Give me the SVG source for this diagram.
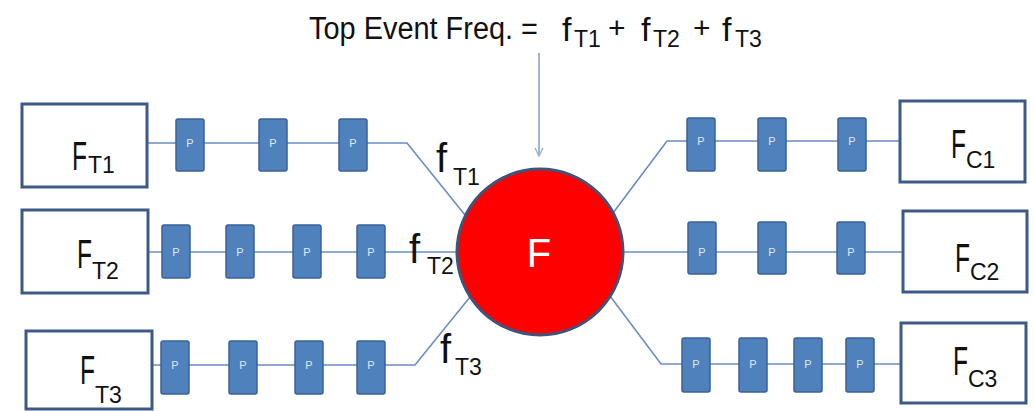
<svg xmlns="http://www.w3.org/2000/svg" width="1035" height="411" viewBox="0 0 1035 411">
<style>
  .box{fill:#fff;stroke:#3d5a86;stroke-width:3}
  .p{fill:#4f81bd;stroke:#3a6296;stroke-width:1.5}
  .pt{font-family:"Liberation Sans",Arial,sans-serif;font-size:11px;fill:#dfe8f5;text-anchor:middle}
  .con{fill:none;stroke:#6b8cc4;stroke-width:1.6}
  .big{font-family:"Liberation Sans",Arial,sans-serif;font-size:40px;fill:#111}
  .sub{font-family:"Liberation Sans",Arial,sans-serif;font-size:23px;fill:#111}
  .title{font-family:"Liberation Sans",Arial,sans-serif;fill:#111}
</style>
<defs>
  <marker id="arr" viewBox="0 0 10 10" refX="9" refY="5" markerWidth="10" markerHeight="10" markerUnits="userSpaceOnUse" orient="auto">
    <path d="M1,1 L9,5 L1,9" fill="none" stroke="#9fb4d6" stroke-width="1.5"/>
  </marker>
</defs>

<g id="title">
  <text class="title" x="309" y="39" font-size="31" textLength="229" lengthAdjust="spacingAndGlyphs">Top Event Freq. =</text>
  <text class="title" font-size="34"><tspan x="562" y="41">f</tspan><tspan x="574" y="47" font-size="23">T1</tspan><tspan x="608" y="38" font-size="30">+</tspan><tspan x="641" y="41">f</tspan><tspan x="653" y="47" font-size="23">T2</tspan><tspan x="693" y="38" font-size="30">+</tspan><tspan x="722" y="41">f</tspan><tspan x="735" y="47" font-size="23">T3</tspan></text>
</g>

<g id="connectors">
  <polyline class="con" points="147,143 407,143 465,215"/>
  <line class="con" x1="148" y1="252" x2="457" y2="252"/>
  <polyline class="con" points="152,365 415,365 470,297"/>
  <polyline class="con" points="613,213 667,141 900,141"/>
  <line class="con" x1="623" y1="252" x2="903" y2="252"/>
  <polyline class="con" points="610,296 661,364 901,364"/>
  <line x1="539" y1="53" x2="539" y2="156" stroke="#9fb4d6" stroke-width="2" marker-end="url(#arr)"/>
</g>

<g id="F">
  <circle cx="540" cy="252" r="83" fill="#ff0000" stroke="#3e5478" stroke-width="3"/>
  <text x="539" y="267" font-family="Liberation Sans,Arial,sans-serif" font-size="40" fill="#fff" text-anchor="middle">F</text>
</g>

<g id="FT1">
  <rect class="box" x="22" y="104" width="125" height="83"/>
  <text class="big" x="72" y="170" textLength="15" lengthAdjust="spacingAndGlyphs">F</text>
  <text class="sub" x="88" y="173">T1</text>
</g>
<g id="FT2">
  <rect class="box" x="22" y="210" width="126" height="83"/>
  <text class="big" x="77" y="268" textLength="15" lengthAdjust="spacingAndGlyphs">F</text>
  <text class="sub" x="92" y="279">T2</text>
</g>
<g id="FT3">
  <rect class="box" x="26" y="331" width="126" height="78"/>
  <text class="big" x="80" y="384" textLength="15" lengthAdjust="spacingAndGlyphs">F</text>
  <text class="sub" x="95" y="403">T3</text>
</g>
<g id="FC1">
  <rect class="box" x="900" y="101" width="125" height="81"/>
  <text class="big" x="951" y="158" textLength="15" lengthAdjust="spacingAndGlyphs">F</text>
  <text class="sub" x="966" y="168">C1</text>
</g>
<g id="FC2">
  <rect class="box" x="903" y="211" width="124" height="81"/>
  <text class="big" x="955" y="272" textLength="15" lengthAdjust="spacingAndGlyphs">F</text>
  <text class="sub" x="970" y="280">C2</text>
</g>
<g id="FC3">
  <rect class="box" x="901" y="323" width="125" height="80"/>
  <text class="big" x="953" y="375" textLength="15" lengthAdjust="spacingAndGlyphs">F</text>
  <text class="sub" x="968" y="387">C3</text>
</g>

<g id="fT1-label">
  <text class="big" x="436" y="172">f</text>
  <text class="sub" x="453" y="185" font-size="22">T1</text>
</g>
<g id="fT2-label">
  <text class="big" x="409" y="263">f</text>
  <text class="sub" x="427" y="274" font-size="22">T2</text>
</g>
<g id="fT3-label">
  <text class="big" x="440" y="363">f</text>
  <text class="sub" x="455" y="375" font-size="22">T3</text>
</g>

<g id="P-left1">
  <rect class="p" x="176" y="119" width="28" height="52" rx="2"/><text class="pt" x="190" y="147">P</text>
  <rect class="p" x="259" y="119" width="28" height="52" rx="2"/><text class="pt" x="273" y="147">P</text>
  <rect class="p" x="339" y="119" width="28" height="52" rx="2"/><text class="pt" x="353" y="147">P</text>
</g>
<g id="P-left2">
  <rect class="p" x="162" y="225" width="28" height="53" rx="2"/><text class="pt" x="176" y="256">P</text>
  <rect class="p" x="226" y="225" width="28" height="53" rx="2"/><text class="pt" x="240" y="256">P</text>
  <rect class="p" x="293" y="225" width="28" height="53" rx="2"/><text class="pt" x="307" y="256">P</text>
  <rect class="p" x="357" y="225" width="28" height="53" rx="2"/><text class="pt" x="371" y="256">P</text>
</g>
<g id="P-left3">
  <rect class="p" x="161" y="341" width="28" height="53" rx="2"/><text class="pt" x="175" y="369">P</text>
  <rect class="p" x="229" y="341" width="28" height="53" rx="2"/><text class="pt" x="243" y="369">P</text>
  <rect class="p" x="295" y="341" width="28" height="53" rx="2"/><text class="pt" x="309" y="369">P</text>
  <rect class="p" x="357" y="341" width="28" height="53" rx="2"/><text class="pt" x="371" y="369">P</text>
</g>
<g id="P-right1">
  <rect class="p" x="687" y="118" width="28" height="53" rx="2"/><text class="pt" x="701" y="145">P</text>
  <rect class="p" x="758" y="118" width="28" height="53" rx="2"/><text class="pt" x="772" y="145">P</text>
  <rect class="p" x="838" y="118" width="28" height="53" rx="2"/><text class="pt" x="852" y="145">P</text>
</g>
<g id="P-right2">
  <rect class="p" x="688" y="222" width="28" height="52" rx="2"/><text class="pt" x="702" y="256">P</text>
  <rect class="p" x="758" y="222" width="28" height="52" rx="2"/><text class="pt" x="772" y="256">P</text>
  <rect class="p" x="837" y="222" width="28" height="52" rx="2"/><text class="pt" x="851" y="256">P</text>
</g>
<g id="P-right3">
  <rect class="p" x="682" y="338" width="28" height="54" rx="2"/><text class="pt" x="696" y="368">P</text>
  <rect class="p" x="739" y="338" width="28" height="54" rx="2"/><text class="pt" x="753" y="368">P</text>
  <rect class="p" x="794" y="338" width="28" height="54" rx="2"/><text class="pt" x="808" y="368">P</text>
  <rect class="p" x="846" y="338" width="28" height="54" rx="2"/><text class="pt" x="860" y="368">P</text>
</g>
</svg>
